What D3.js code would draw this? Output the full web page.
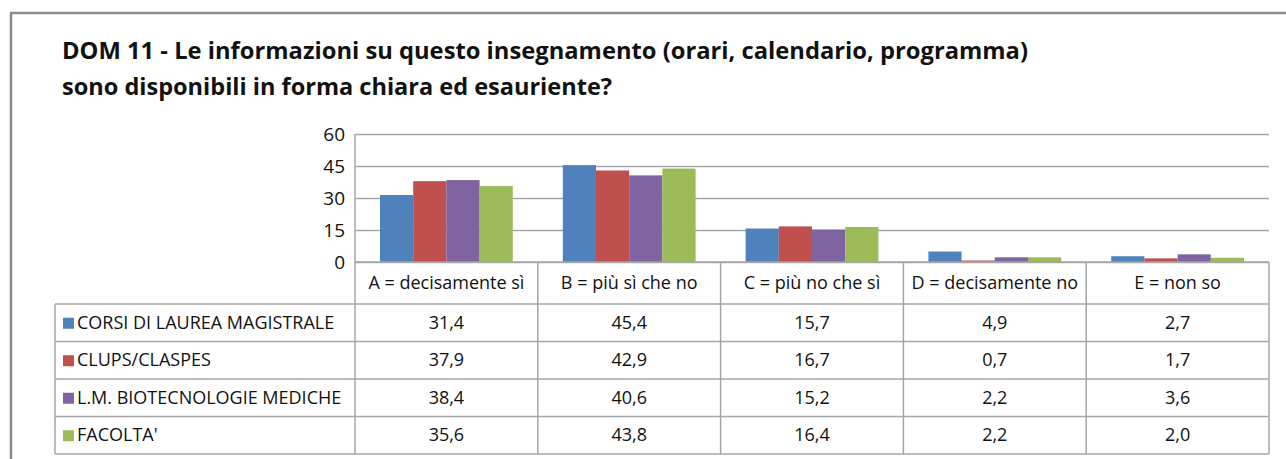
<!DOCTYPE html>
<html>
<head>
<meta charset="utf-8">
<script src="https://cdn.jsdelivr.net/npm/d3@7"></script>
<style>
  body { margin: 0; background: #fff; }
  svg { display: block; font-family: "Open Sans", "Liberation Sans", sans-serif; }
</style>
</head>
<body>
<svg id="chart" width="1286" height="459"></svg>
<script>
const titleLines = [
  'DOM 11 - Le informazioni su questo insegnamento (orari, calendario, programma)',
  'sono disponibili in forma chiara ed esauriente?'
]
const categories = ['A = decisamente sì', 'B = più sì che no', 'C = più no che sì', 'D = decisamente no', 'E = non so']
const seriesNames = ['CORSI DI LAUREA MAGISTRALE', 'CLUPS/CLASPES', 'L.M. BIOTECNOLOGIE MEDICHE', "FACOLTA'"]
const corsiMagistrale = [31.4, 45.4, 15.7, 4.9, 2.7]
const clupsClaspes = [37.9, 42.9, 16.7, 0.7, 1.7]
const biotecMediche = [38.4, 40.6, 15.2, 2.2, 3.6]
const facolta = [35.6, 43.8, 16.4, 2.2, 2.0]
const yTicks = [0, 15, 30, 45, 60]

const colors = ['#4f81bd', '#c0504d', '#8064a2', '#9bbb59']
const series = [corsiMagistrale, clupsClaspes, biotecMediche, facolta]
  .map((values, i) => ({ name: seriesNames[i], values: values, color: colors[i] }))

const svg = d3.select('#chart')
const plotLeft = 355, plotRight = 1269, plotTop = 134, plotBase = 262
const tableLeft = 55, headH = 42, rowH = 37.5
const fontSize = 18

// outer frame
svg.append('path')
  .attr('d', 'M11,470 V13 H1300')
  .attr('fill', 'none')
  .attr('stroke', '#8c8c8c')
  .attr('stroke-width', 2.5)

// title
svg.append('g').selectAll('text')
  .data(titleLines)
  .join('text')
  .attr('x', 62)
  .attr('y', (d, i) => 59 + i * 36)
  .attr('font-size', 22.5)
  .attr('font-weight', 'bold')
  .attr('fill', '#111')
  .attr('textLength', (d, i) => i === 0 ? 966 : 550)
  .attr('lengthAdjust', 'spacingAndGlyphs')
  .text(d => d)

const x0 = d3.scaleBand().domain(categories).range([plotLeft, plotRight])
const x1 = d3.scaleBand().domain(seriesNames).range([25, x0.bandwidth() - 25])
const y = d3.scaleLinear().domain([0, 60]).range([plotBase, plotTop])

// gridlines
svg.append('g')
  .attr('transform', `translate(${plotLeft},0)`)
  .call(d3.axisLeft(y).tickValues(yTicks).tickSize(-(plotRight - plotLeft)).tickFormat(''))
  .call(g => g.select('.domain').remove())
  .call(g => g.selectAll('line').attr('stroke', '#a6a6a6').attr('stroke-width', 1.5))

// y tick labels
svg.append('g')
  .attr('transform', `translate(${plotLeft - 10},0)`)
  .call(d3.axisLeft(y).tickValues(yTicks).tickSize(0).tickPadding(0))
  .call(g => g.select('.domain').remove())
  .call(g => g.selectAll('text').attr('font-size', 19).attr('fill', '#111')
    .attr('font-family', '"Open Sans", sans-serif'))

// bars
svg.append('g').selectAll('g')
  .data(categories)
  .join('g')
  .attr('transform', d => `translate(${x0(d)},0)`)
  .selectAll('rect')
  .data((d, ci) => series.map(s => ({ name: s.name, value: s.values[ci], color: s.color })))
  .join('rect')
  .attr('x', d => x1(d.name))
  .attr('width', x1.bandwidth())
  .attr('y', d => y(d.value))
  .attr('height', d => plotBase - y(d.value))
  .attr('fill', d => d.color)

// data table
const table = svg.append('g')
const tableBottom = plotBase + headH + rowH * series.length
const lineColor = '#a6a6a6'
const hLines = [plotBase].concat(d3.range(series.length + 1).map(i => plotBase + headH + i * rowH))
table.selectAll('line.h')
  .data(hLines)
  .join('line')
  .attr('class', 'h')
  .attr('x1', (d, i) => i === 0 ? plotLeft : tableLeft)
  .attr('x2', plotRight)
  .attr('y1', d => d)
  .attr('y2', d => d)
  .attr('stroke', lineColor)
  .attr('stroke-width', 1.5)
const vLines = [tableLeft].concat(categories.map(c => x0(c)), [plotRight])
table.selectAll('line.v')
  .data(vLines)
  .join('line')
  .attr('class', 'v')
  .attr('x1', d => d)
  .attr('x2', d => d)
  .attr('y1', (d, i) => i === 0 ? plotBase + headH : (i === 1 ? plotTop : plotBase))
  .attr('y2', tableBottom)
  .attr('stroke', lineColor)
  .attr('stroke-width', 1.5)

// header labels
table.selectAll('text.head')
  .data(categories)
  .join('text')
  .attr('class', 'head')
  .attr('x', d => x0(d) + x0.bandwidth() / 2)
  .attr('y', plotBase + headH / 2 + 6)
  .attr('text-anchor', 'middle')
  .attr('font-size', fontSize)
  .attr('fill', '#111')
  .text(d => d)

const fmt = v => d3.format('.1f')(v).replace('.', ',')

const rows = table.selectAll('g.row')
  .data(series)
  .join('g')
  .attr('class', 'row')
  .attr('transform', (d, i) => `translate(0,${plotBase + headH + i * rowH})`)

rows.append('rect')
  .attr('x', 63)
  .attr('y', rowH / 2 - 5)
  .attr('width', 11)
  .attr('height', 11)
  .attr('fill', d => d.color)

rows.append('text')
  .attr('x', 77)
  .attr('y', rowH / 2 + 6)
  .attr('font-size', fontSize)
  .attr('fill', '#111')
  .text(d => d.name)

rows.selectAll('text.val')
  .data(d => d.values.map((v, i) => ({ v: v, c: categories[i] })))
  .join('text')
  .attr('class', 'val')
  .attr('x', d => x0(d.c) + x0.bandwidth() / 2)
  .attr('y', rowH / 2 + 6)
  .attr('text-anchor', 'middle')
  .attr('font-size', fontSize)
  .attr('fill', '#111')
  .text(d => fmt(d.v))
</script>
</body>
</html>
